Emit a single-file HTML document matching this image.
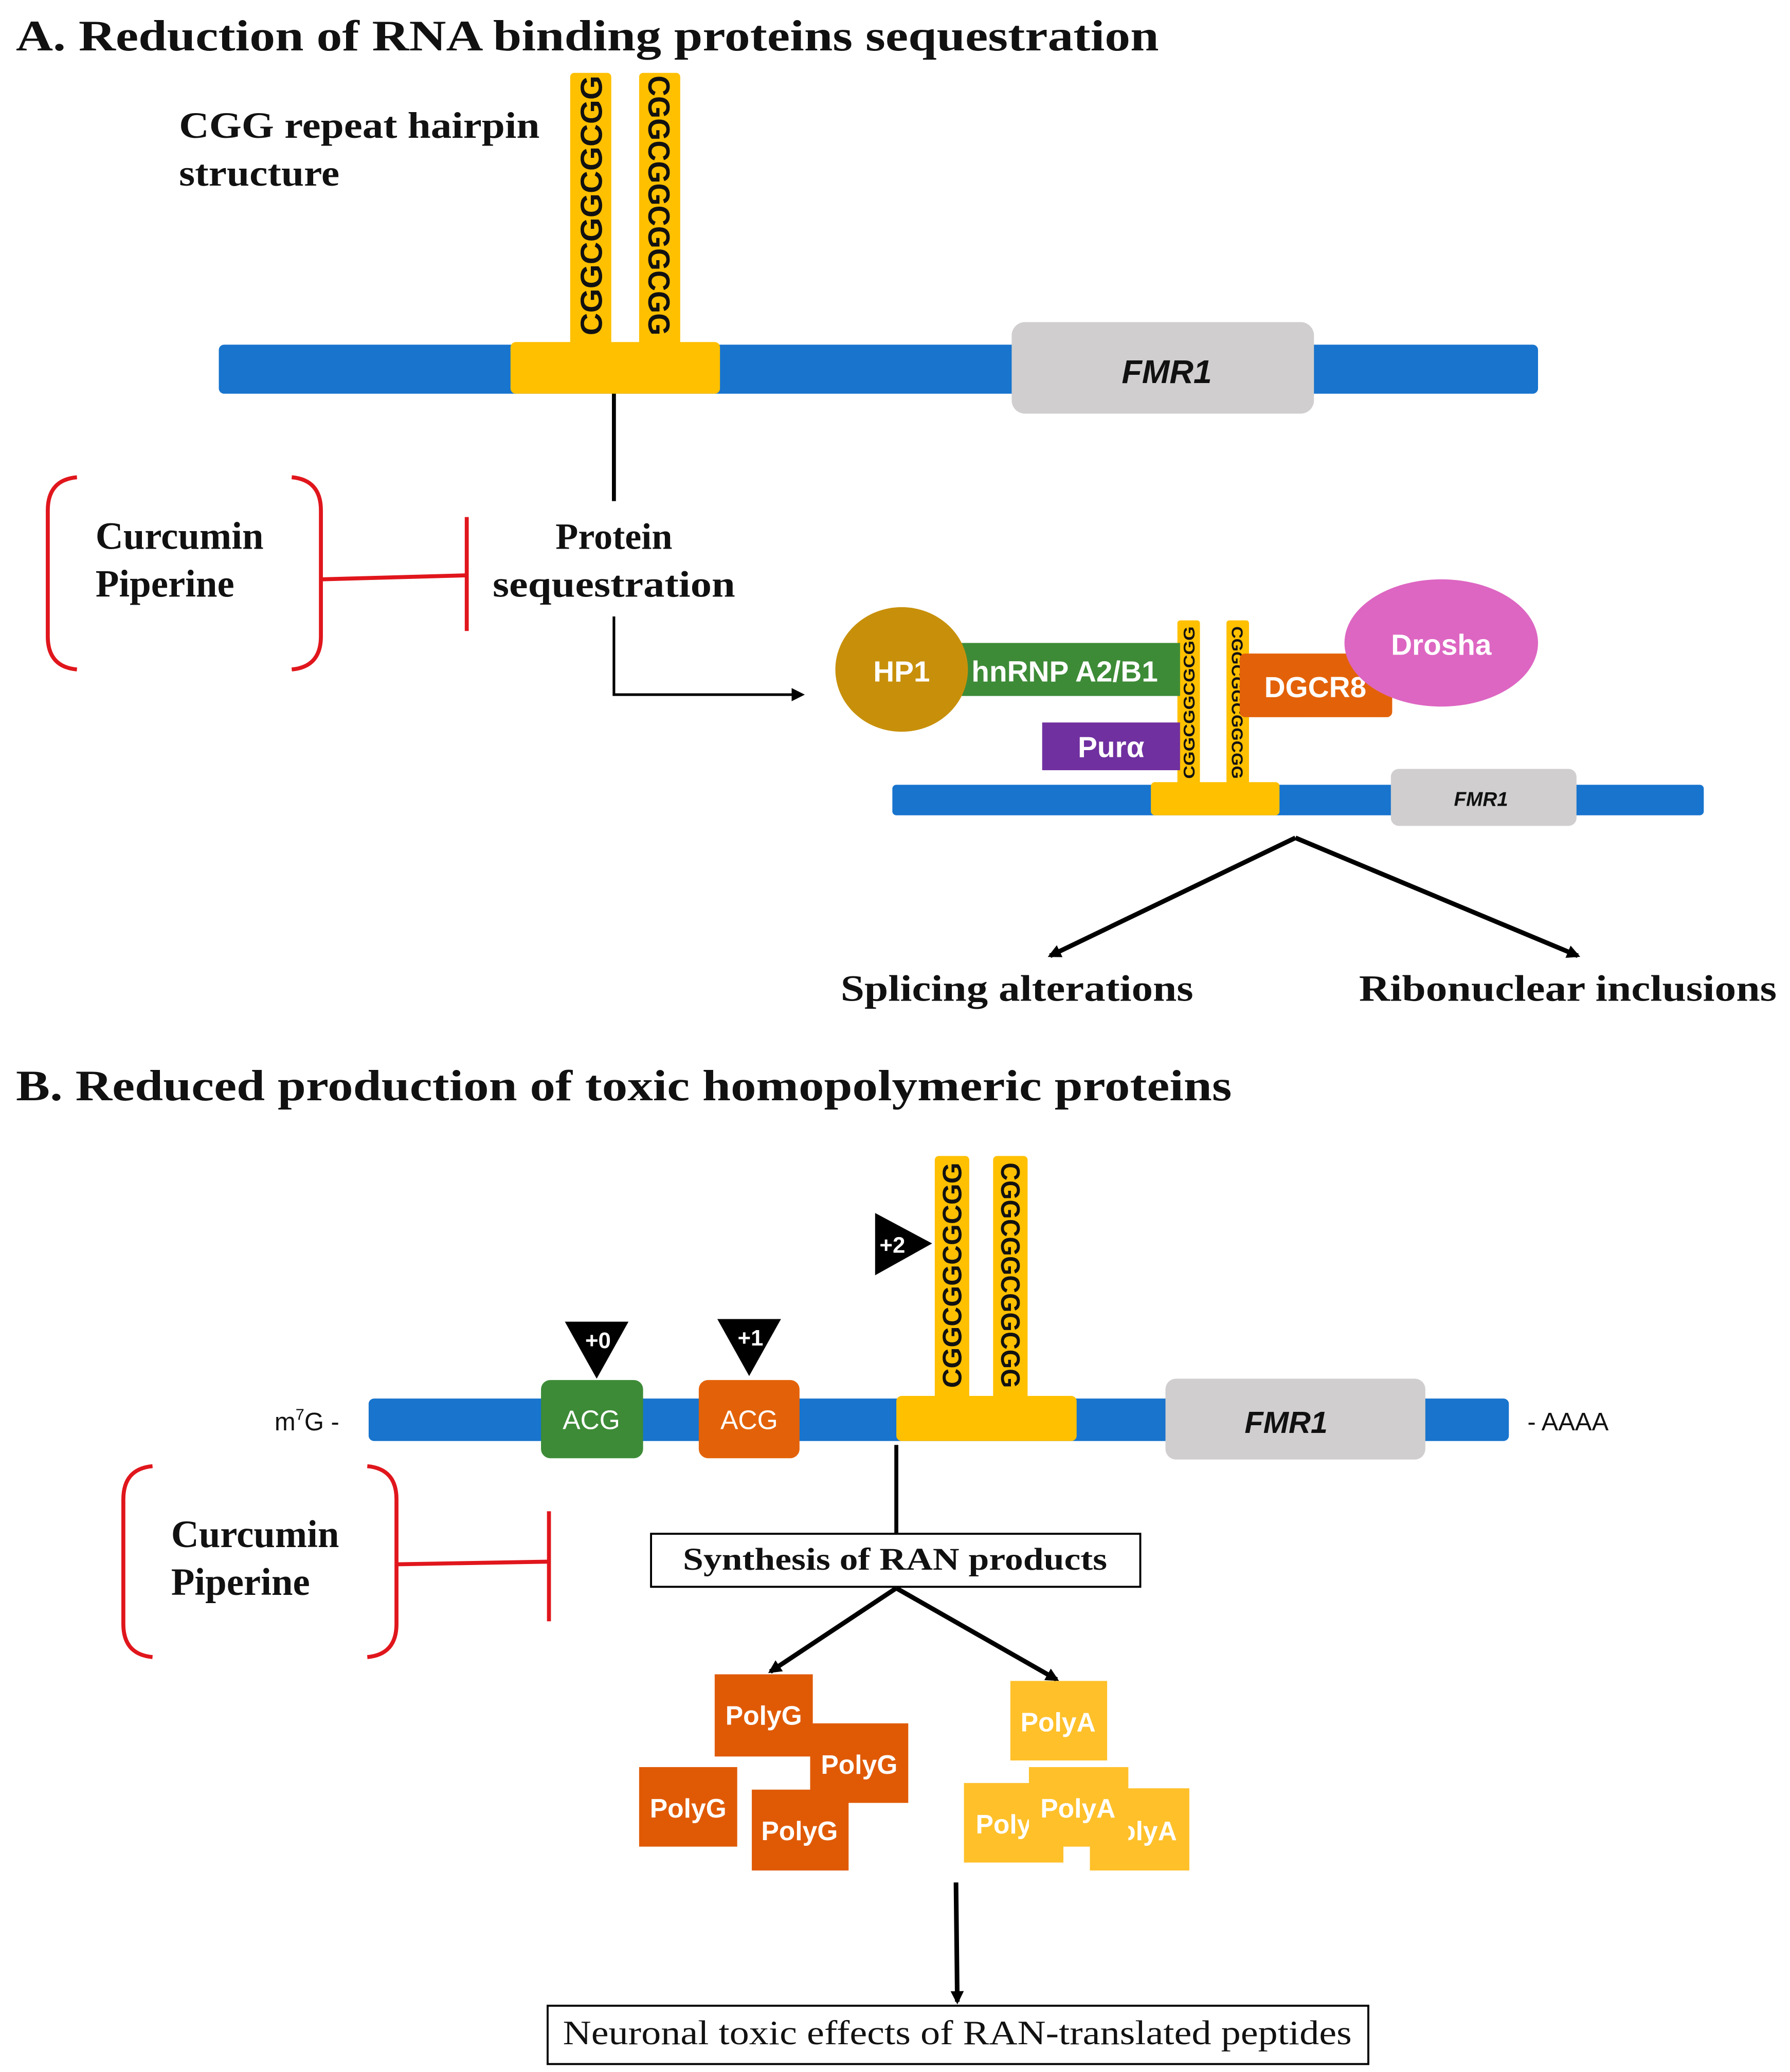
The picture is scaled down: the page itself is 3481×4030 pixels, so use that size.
<!DOCTYPE html>
<html><head><meta charset="utf-8"><style>html,body{margin:0;padding:0;background:#fff}svg{display:block}</style></head>
<body>
<svg xmlns="http://www.w3.org/2000/svg" width="3481" height="4030" viewBox="0 0 1350 1563">
<defs>
<marker id="ah" markerWidth="10" markerHeight="10" refX="8" refY="5" orient="auto" markerUnits="userSpaceOnUse"><path d="M0,0 L10,5 L0,10 z" fill="#000"/></marker>
</defs>
<rect width="1350" height="1563" fill="#fff"/>
<g font-family="Liberation Serif, serif" font-weight="bold" fill="#111">
<text x="12" y="38" font-size="33" textLength="862" lengthAdjust="spacingAndGlyphs">A. Reduction of RNA binding proteins sequestration</text>
<text x="135" y="104" font-size="28" textLength="272" lengthAdjust="spacingAndGlyphs">CGG repeat hairpin</text>
<text x="135" y="140" font-size="28" textLength="121" lengthAdjust="spacingAndGlyphs">structure</text>
<text x="463" y="414" font-size="28" text-anchor="middle">Protein</text>
<text x="463" y="450" font-size="28" text-anchor="middle" textLength="183" lengthAdjust="spacingAndGlyphs">sequestration</text>
<text x="72" y="414" font-size="29">Curcumin</text>
<text x="72" y="450" font-size="29">Piperine</text>
<text x="634" y="755" font-size="28" textLength="266" lengthAdjust="spacingAndGlyphs">Splicing alterations</text>
<text x="1025" y="755" font-size="28" textLength="315" lengthAdjust="spacingAndGlyphs">Ribonuclear inclusions</text>
<text x="12" y="830" font-size="33" textLength="917" lengthAdjust="spacingAndGlyphs">B. Reduced production of toxic homopolymeric proteins</text>
<text x="129" y="1167" font-size="29">Curcumin</text>
<text x="129" y="1203" font-size="29">Piperine</text>
</g>
<!-- A main -->
<rect x="165" y="260" width="995" height="37" rx="4" fill="#1874CD"/>
<rect x="430" y="55" width="31" height="210" rx="3" fill="#FFC000"/>
<rect x="482" y="55" width="31" height="210" rx="3" fill="#FFC000"/>
<rect x="385" y="258" width="158" height="39" rx="4" fill="#FFC000"/>
<text transform="translate(454,155) rotate(-90)" font-family="Liberation Sans, sans-serif" font-weight="bold" font-size="23" text-anchor="middle" textLength="196" lengthAdjust="spacingAndGlyphs" fill="#111">CGGCGGCGCGG</text>
<text transform="translate(489,155) rotate(90)" font-family="Liberation Sans, sans-serif" font-weight="bold" font-size="23" text-anchor="middle" textLength="196" lengthAdjust="spacingAndGlyphs" fill="#111">CGGCGGCGGCGG</text>
<rect x="763" y="243" width="228" height="69" rx="10" fill="#D0CECE"/>
<text x="880" y="289" font-family="Liberation Sans, sans-serif" font-weight="bold" font-style="italic" font-size="25" text-anchor="middle" fill="#111">FMR1</text>
<line x1="463" y1="297" x2="463" y2="378" stroke="#000" stroke-width="3"/>
<polyline points="463,465 463,524 605,524" fill="none" stroke="#000" stroke-width="2" marker-end="url(#ah)"/>
<g fill="none" stroke="#E0161C" stroke-width="3">
<path d="M58,360 Q36,362 36,385 L36,480 Q36,503 58,505"/>
<path d="M220,360 Q242,362 242,385 L242,480 Q242,503 220,505"/>
<line x1="243" y1="437" x2="352" y2="434"/>
<line x1="352" y1="390" x2="352" y2="476"/>
<path d="M115,1106 Q93,1108 93,1131 L93,1225 Q93,1248 115,1250"/>
<path d="M277,1106 Q299,1108 299,1131 L299,1225 Q299,1248 277,1250"/>
<line x1="300" y1="1180" x2="414" y2="1178"/>
<line x1="414" y1="1140" x2="414" y2="1223"/>
</g>
<!-- A small -->
<rect x="673" y="592" width="612" height="23" rx="3" fill="#1874CD"/>
<rect x="868" y="590" width="97" height="25" rx="3" fill="#FFC000"/>
<rect x="888" y="468" width="17" height="125" rx="2" fill="#FFC000"/>
<rect x="925" y="468" width="17" height="125" rx="2" fill="#FFC000"/>
<text transform="translate(901,530) rotate(-90)" font-family="Liberation Sans, sans-serif" font-weight="bold" font-size="12" text-anchor="middle" textLength="115" lengthAdjust="spacingAndGlyphs" fill="#111">CGGCGGCGCGG</text>
<text transform="translate(929,530) rotate(90)" font-family="Liberation Sans, sans-serif" font-weight="bold" font-size="12" text-anchor="middle" textLength="115" lengthAdjust="spacingAndGlyphs" fill="#111">CGGCGGCGGCGG</text>
<rect x="1049" y="580" width="140" height="43" rx="6" fill="#D0CECE"/>
<text x="1117" y="608" font-family="Liberation Sans, sans-serif" font-weight="bold" font-style="italic" font-size="15" text-anchor="middle" fill="#111">FMR1</text>
<rect x="725" y="485" width="165" height="40" fill="#3D8B37"/>
<text x="803" y="514" font-family="Liberation Sans, sans-serif" font-weight="bold" font-size="22" text-anchor="middle" fill="#fff">hnRNP A2/B1</text>
<ellipse cx="680" cy="505" rx="50" ry="47" fill="#C8900A"/>
<text x="680" y="514" font-family="Liberation Sans, sans-serif" font-weight="bold" font-size="22" text-anchor="middle" fill="#fff">HP1</text>
<rect x="786" y="545" width="104" height="36" fill="#7030A0"/>
<text x="838" y="571" font-family="Liberation Sans, sans-serif" font-weight="bold" font-size="22" text-anchor="middle" fill="#fff">Purα</text>
<rect x="935" y="493" width="115" height="48" rx="4" fill="#E36209"/>
<text x="992" y="526" font-family="Liberation Sans, sans-serif" font-weight="bold" font-size="22" text-anchor="middle" fill="#fff">DGCR8</text>
<ellipse cx="1087" cy="485" rx="73" ry="48" fill="#DD66C2"/>
<text x="1087" y="494" font-family="Liberation Sans, sans-serif" font-weight="bold" font-size="22" text-anchor="middle" fill="#fff">Drosha</text>
<line x1="977" y1="632" x2="792" y2="721" stroke="#000" stroke-width="3.5" marker-end="url(#ah)"/>
<line x1="977" y1="632" x2="1190" y2="721" stroke="#000" stroke-width="3.5" marker-end="url(#ah)"/>
<!-- B -->
<rect x="278" y="1055" width="860" height="32" rx="4" fill="#1874CD"/>
<text x="207" y="1079" font-family="Liberation Sans, sans-serif" font-size="19" fill="#111">m<tspan font-size="12" dy="-8">7</tspan><tspan dy="8">G -</tspan></text>
<text x="1152" y="1079" font-family="Liberation Sans, sans-serif" font-size="19" fill="#111">- AAAA</text>
<rect x="408" y="1041" width="77" height="59" rx="7" fill="#3D8B37"/>
<text x="446" y="1078" font-family="Liberation Sans, sans-serif" font-size="20" text-anchor="middle" fill="#fff">ACG</text>
<rect x="527" y="1041" width="76" height="59" rx="7" fill="#E36209"/>
<text x="565" y="1078" font-family="Liberation Sans, sans-serif" font-size="20" text-anchor="middle" fill="#fff">ACG</text>
<rect x="705" y="872" width="26" height="188" rx="3" fill="#FFC000"/>
<rect x="749" y="872" width="26" height="188" rx="3" fill="#FFC000"/>
<rect x="676" y="1053" width="136" height="34" rx="4" fill="#FFC000"/>
<text transform="translate(725,962) rotate(-90)" font-family="Liberation Sans, sans-serif" font-weight="bold" font-size="20" text-anchor="middle" textLength="170" lengthAdjust="spacingAndGlyphs" fill="#111">CGGCGGCGCGG</text>
<text transform="translate(755,962) rotate(90)" font-family="Liberation Sans, sans-serif" font-weight="bold" font-size="20" text-anchor="middle" textLength="170" lengthAdjust="spacingAndGlyphs" fill="#111">CGGCGGCGGCGG</text>
<rect x="879" y="1040" width="196" height="61" rx="8" fill="#D0CECE"/>
<text x="970" y="1081" font-family="Liberation Sans, sans-serif" font-weight="bold" font-style="italic" font-size="23" text-anchor="middle" fill="#111">FMR1</text>
<polygon points="426,997 474,997 450,1040" fill="#000"/>
<text x="451" y="1017" font-family="Liberation Sans, sans-serif" font-weight="bold" font-size="17" text-anchor="middle" fill="#fff">+0</text>
<polygon points="541,995 589,995 565,1038" fill="#000"/>
<text x="566" y="1015" font-family="Liberation Sans, sans-serif" font-weight="bold" font-size="17" text-anchor="middle" fill="#fff">+1</text>
<polygon points="660,915 703,938 660,962" fill="#000"/>
<text x="673" y="945" font-family="Liberation Sans, sans-serif" font-weight="bold" font-size="17" text-anchor="middle" fill="#fff">+2</text>
<line x1="676" y1="1090" x2="676" y2="1157" stroke="#000" stroke-width="3"/>
<rect x="491" y="1157" width="369" height="40" fill="#fff" stroke="#000" stroke-width="1.5"/>
<text x="675" y="1184" font-family="Liberation Serif, serif" font-weight="bold" font-size="24" text-anchor="middle" textLength="320" lengthAdjust="spacingAndGlyphs" fill="#111">Synthesis of RAN products</text>
<line x1="676" y1="1198" x2="581" y2="1261" stroke="#000" stroke-width="3.5" marker-end="url(#ah)"/>
<line x1="676" y1="1198" x2="797" y2="1267" stroke="#000" stroke-width="3.5" marker-end="url(#ah)"/>
<g font-family="Liberation Sans, sans-serif" font-weight="bold" font-size="20" fill="#fff" text-anchor="middle">
<rect x="539" y="1263" width="74" height="62" fill="#E05A06"/><text x="576" y="1301">PolyG</text>
<rect x="611" y="1300" width="74" height="60" fill="#E05A06"/><text x="648" y="1338">PolyG</text>
<rect x="482" y="1333" width="74" height="60" fill="#E05A06"/><text x="519" y="1371">PolyG</text>
<rect x="567" y="1350" width="73" height="61" fill="#E05A06"/><text x="603" y="1388">PolyG</text>
<rect x="762" y="1268" width="73" height="60" fill="#FFC02A"/><text x="798" y="1306">PolyA</text>
<rect x="727" y="1345" width="75" height="60" fill="#FFC02A"/><text x="757" y="1383">Poly</text>
<rect x="822" y="1349" width="75" height="62" fill="#FFC02A"/><text x="866" y="1388">olyA</text>
<rect x="776" y="1333" width="75" height="60" fill="#FFC02A"/><text x="813" y="1371">PolyA</text>
</g>
<line x1="721" y1="1420" x2="722" y2="1510" stroke="#000" stroke-width="3.5" marker-end="url(#ah)"/>
<rect x="413" y="1513" width="619" height="44" fill="#fff" stroke="#000" stroke-width="1.5"/>
<text x="722" y="1542" font-family="Liberation Serif, serif" font-size="26" text-anchor="middle" textLength="595" lengthAdjust="spacingAndGlyphs" fill="#111">Neuronal toxic effects of RAN-translated peptides</text>
</svg>
</body></html>
